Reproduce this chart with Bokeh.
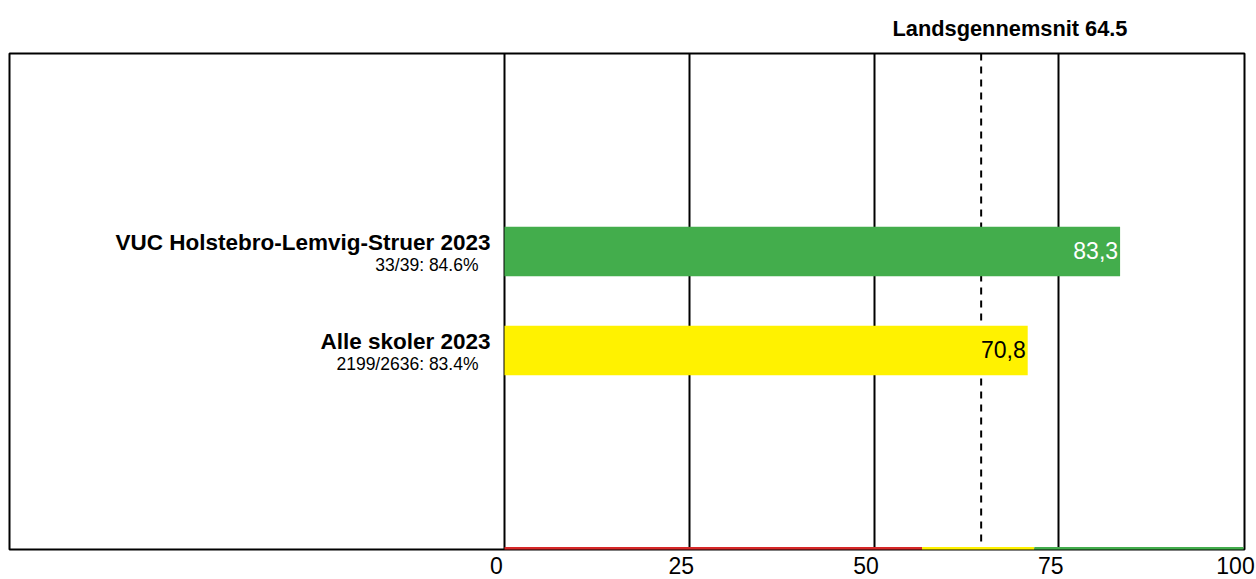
from bokeh.plotting import figure
from bokeh.models import Range1d, LinearAxis, FixedTicker, Grid, Span, Title, ColumnDataSource
from bokeh.core.properties import value
from bokeh.embed import file_html
from bokeh.resources import INLINE

# ---- data ----
categories = ["VUC Holstebro-Lemvig-Struer 2023", "Alle skoler 2023"]
sub_labels = ["33/39: 84.6%", "2199/2636: 83.4%"]
values = [83.3, 70.8]
value_texts = ["83,3", "70,8"]
bar_colors = ["#43AD4C", "#FFF200"]
value_text_colors = ["#FFFFFF", "#000000"]
national_average = 64.5
title_text = "Landsgennemsnit 64.5"
band_starts = [0, 56.5, 71.7]
band_ends = [56.5, 71.7, 100]
band_colors = ["#D62828", "#FFF200", "#43AD4C"]
x_ticks = [0, 25, 50, 75, 100]
grid_ticks = [0, 25, 50, 75]

# ---- layout ----
PX = 7.39                      # pixels per unit on x
X_START = -495 / PX
X_END = 100 + 1 / PX
n = len(categories)
y_pos = [n + 1 - i for i in range(n)]
Y_START = -1 / 99
Y_END = n + 3
FONT = "Liberation Sans"

p = figure(frame_width=1235, frame_height=496,
           x_range=Range1d(X_START, X_END), y_range=Range1d(Y_START, Y_END),
           x_axis_location=None, y_axis_location=None,
           toolbar_location=None, output_backend="svg",
           min_border_left=9, min_border_right=12, min_border_top=53, min_border_bottom=30)
p.outline_line_color = "black"
p.outline_line_width = 2
p.background_fill_color = "white"
p.border_fill_color = "white"
for g in p.grid:
    g.visible = False

p.title = Title(text=title_text, align="left", offset=883, standoff=25,
                text_font=FONT, text_font_style="bold", text_font_size="21.8px",
                text_color="black")

p.add_layout(Grid(dimension=0, ticker=FixedTicker(ticks=grid_ticks),
                  grid_line_color="black", grid_line_width=2))
p.add_layout(Span(location=national_average, dimension="height", line_color="black",
                  line_width=2, line_dash="7 6", level="underlay"))

src = ColumnDataSource(dict(y=y_pos, cat=categories, sub=sub_labels, val=values,
                            vt=value_texts, bc=bar_colors, tc=value_text_colors))

p.hbar(y="y", left=0, right="val", height=0.5, fill_color="bc", line_color=None, source=src)

p.text(x=0, y="y", text="cat", x_offset=-14, y_offset=-9, text_align="right",
       text_baseline="alphabetic", text_font=value(FONT), text_font_style="bold",
       text_font_size="22.5px", text_color="black", source=src)
p.text(x=0, y="y", text="sub", x_offset=-26, y_offset=13, text_align="right",
       text_baseline="alphabetic", text_font=value(FONT),
       text_font_size="17.5px", text_color="black", source=src)
p.text(x="val", y="y", text="vt", x_offset=-2, y_offset=-1, text_align="right",
       text_baseline="alphabetic", text_font=value(FONT),
       text_font_size="23px", text_color="tc", source=src)

band = ColumnDataSource(dict(s=band_starts, e=band_ends, c=band_colors))
p.segment(x0="s", y0=0, x1="e", y1=0, line_color="c", line_width=3, line_cap="butt", source=band)

p.extra_x_ranges = {"tick": Range1d(X_START + 8 / PX, X_END + 8 / PX)}
axis = LinearAxis(x_range_name="tick", ticker=FixedTicker(ticks=x_ticks),
                  axis_line_color=None, major_tick_line_color=None, minor_tick_line_color=None,
                  major_tick_out=0, major_tick_in=0, major_label_standoff=7,
                  major_label_text_font=FONT, major_label_text_font_size="23px",
                  major_label_text_color="black")
p.add_layout(axis, "below")

open("out.html", "w").write(file_html(p, INLINE))
